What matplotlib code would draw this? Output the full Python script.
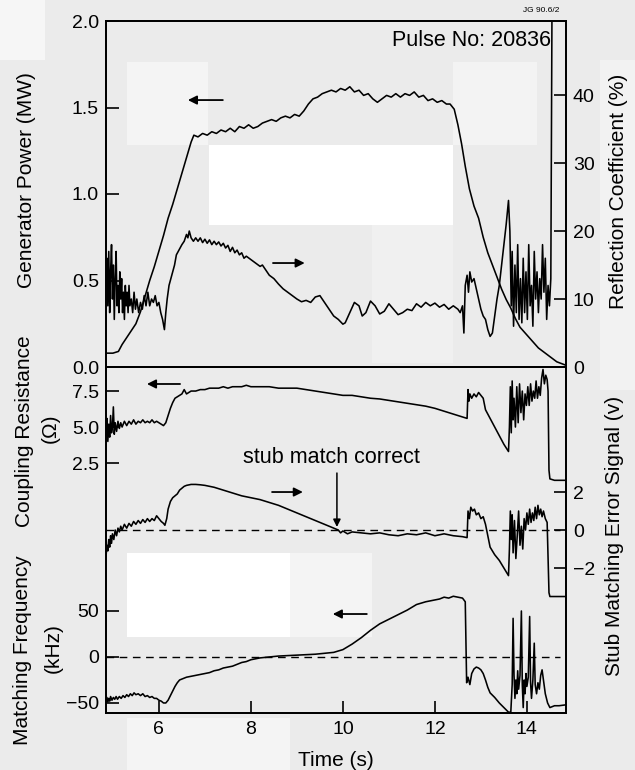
import matplotlib
matplotlib.use("Agg")
import matplotlib.pyplot as plt
from matplotlib.patches import Rectangle
from matplotlib.ticker import FixedLocator, FixedFormatter

plt.rcParams['font.family'] = ['Liberation Sans', 'DejaVu Sans']

# ---------------- data (time in s) ----------------
time_ticks = [6, 8, 10, 12, 14]

gen_power = [  # (t, MW)
    (4.85, 0.08), (5.00, 0.08), (5.12, 0.09), (5.20, 0.13), (5.30, 0.17), (5.40, 0.21),
    (5.50, 0.25), (5.60, 0.32), (5.70, 0.41), (5.80, 0.50), (5.90, 0.58), (6.00, 0.67),
    (6.10, 0.76), (6.20, 0.86), (6.30, 0.94), (6.40, 1.03), (6.50, 1.12), (6.60, 1.21),
    (6.70, 1.30), (6.76, 1.34), (6.85, 1.33), (6.95, 1.35), (7.05, 1.34), (7.15, 1.36),
    (7.25, 1.35), (7.35, 1.37), (7.45, 1.36), (7.55, 1.38), (7.65, 1.36), (7.75, 1.39),
    (7.85, 1.38), (7.95, 1.40), (8.05, 1.38), (8.15, 1.39), (8.25, 1.41), (8.35, 1.42),
    (8.45, 1.43), (8.55, 1.42), (8.65, 1.44), (8.75, 1.45), (8.85, 1.44), (8.95, 1.46),
    (9.05, 1.45), (9.15, 1.48), (9.25, 1.52), (9.35, 1.55), (9.45, 1.56), (9.55, 1.58),
    (9.65, 1.59), (9.75, 1.60), (9.85, 1.59), (9.95, 1.61), (10.05, 1.60), (10.15, 1.62),
    (10.25, 1.59), (10.35, 1.60), (10.45, 1.57), (10.55, 1.58), (10.65, 1.55), (10.75, 1.53),
    (10.85, 1.55), (10.95, 1.57), (11.05, 1.56), (11.15, 1.58), (11.25, 1.56), (11.35, 1.58),
    (11.45, 1.57), (11.55, 1.59), (11.65, 1.56), (11.75, 1.57), (11.85, 1.54), (11.95, 1.55),
    (12.05, 1.53), (12.15, 1.54), (12.25, 1.52), (12.33, 1.52), (12.42, 1.49), (12.50, 1.40),
    (12.58, 1.29), (12.66, 1.16), (12.75, 1.03), (12.85, 0.93), (12.95, 0.86), (13.05, 0.75),
    (13.15, 0.66), (13.25, 0.59), (13.35, 0.52), (13.45, 0.45), (13.55, 0.39), (13.65, 0.34),
    (13.75, 0.28), (13.85, 0.23), (13.95, 0.20), (14.05, 0.17), (14.15, 0.14), (14.25, 0.11),
    (14.35, 0.09), (14.45, 0.07), (14.55, 0.05), (14.65, 0.03), (14.75, 0.02), (14.85, 0.01),
]

reflection = [  # (t, %)
    (4.85, 12), (4.87, 16), (4.89, 9), (4.91, 17), (4.93, 8), (4.95, 14), (4.97, 18), (4.99, 10),
    (5.01, 15), (5.03, 7), (5.05, 13), (5.07, 17), (5.09, 9), (5.11, 12), (5.13, 8), (5.15, 14),
    (5.17, 10), (5.19, 13), (5.21, 8), (5.23, 11), (5.25, 7), (5.27, 12), (5.29, 9), (5.31, 11),
    (5.33, 8), (5.35, 12), (5.37, 9), (5.40, 10), (5.43, 8), (5.46, 11), (5.49, 8.5), (5.52, 10),
    (5.56, 8), (5.60, 9.5), (5.64, 8.5), (5.68, 10.5), (5.72, 9), (5.76, 11), (5.80, 9), (5.84, 10),
    (5.88, 9.5), (5.92, 10.5), (5.96, 9), (6.00, 9.5), (6.04, 8), (6.08, 7), (6.12, 5.5), (6.15, 8),
    (6.18, 10), (6.22, 12), (6.26, 13), (6.30, 14), (6.34, 15), (6.38, 16.5), (6.42, 17), (6.46, 17.5),
    (6.50, 18), (6.55, 18.5), (6.60, 19.5), (6.63, 19), (6.66, 20), (6.70, 19), (6.75, 18.5), (6.80, 19),
    (6.85, 18.5), (6.90, 19), (6.95, 18.3), (7.00, 18.8), (7.05, 18.2), (7.10, 18.7), (7.15, 18),
    (7.20, 18.5), (7.25, 18), (7.30, 18.4), (7.35, 17.8), (7.40, 18.2), (7.45, 17.5), (7.50, 17.9),
    (7.55, 17), (7.60, 17.6), (7.65, 16.8), (7.70, 17.2), (7.75, 16.5), (7.80, 16.8), (7.85, 16),
    (7.90, 16.3), (8.00, 15.8), (8.10, 15.3), (8.20, 14.8), (8.25, 15), (8.30, 14.5), (8.40, 13.5),
    (8.50, 13), (8.60, 12.2), (8.70, 11.5), (8.80, 11), (8.90, 10.5), (9.00, 10), (9.10, 9.6),
    (9.20, 9.8), (9.30, 9.5), (9.40, 10.3), (9.50, 10.5), (9.60, 9.5), (9.70, 8.5), (9.80, 7.5),
    (9.90, 7), (10.00, 6.3), (10.05, 6.5), (10.15, 8), (10.25, 9.5), (10.35, 9), (10.42, 7.5),
    (10.50, 8), (10.60, 9.7), (10.70, 9), (10.80, 7.8), (10.90, 8.2), (11.00, 9.3), (11.10, 8.5),
    (11.20, 7.7), (11.30, 8), (11.40, 8.5), (11.50, 8.3), (11.60, 9.3), (11.70, 8.8), (11.80, 9.5),
    (11.90, 9), (12.00, 9.4), (12.10, 8.8), (12.20, 9.2), (12.30, 8.5), (12.40, 9), (12.50, 8.5),
    (12.55, 8), (12.60, 9), (12.63, 5), (12.66, 12), (12.70, 13.5), (12.73, 11), (12.76, 14),
    (12.80, 12.5), (12.85, 13), (12.90, 11.5), (12.95, 10), (13.00, 8.5), (13.05, 7.5), (13.10, 7),
    (13.15, 5.5), (13.20, 4.5), (13.25, 5), (13.30, 7.5), (13.35, 10), (13.40, 12), (13.45, 15),
    (13.50, 18), (13.55, 21), (13.60, 24.5), (13.63, 20), (13.66, 9), (13.68, 17), (13.71, 6),
    (13.74, 15), (13.77, 8), (13.80, 18), (13.83, 7), (13.86, 13), (13.89, 6.5), (13.92, 16),
    (13.95, 8), (13.98, 14), (14.01, 7), (14.04, 18), (14.07, 9), (14.10, 12), (14.13, 6),
    (14.16, 17), (14.19, 10), (14.22, 14), (14.25, 8), (14.28, 13), (14.31, 10), (14.34, 18),
    (14.37, 11), (14.40, 16), (14.43, 7), (14.46, 12), (14.49, 9), (14.52, 13), (14.55, 60),
]

coupling = [  # (t, ohm)
    (4.85, 4.5), (4.87, 5.6), (4.89, 4.0), (4.91, 5.2), (4.93, 4.3), (4.95, 5.8), (4.97, 4.6),
    (4.99, 5.0), (5.01, 6.4), (5.03, 4.5), (5.05, 5.3), (5.08, 4.7), (5.11, 5.4), (5.14, 4.9),
    (5.17, 5.3), (5.20, 5.0), (5.25, 5.4), (5.30, 5.1), (5.35, 5.4), (5.40, 5.2), (5.45, 5.5),
    (5.50, 5.2), (5.55, 5.4), (5.60, 5.3), (5.65, 5.5), (5.70, 5.3), (5.75, 5.4), (5.80, 5.3),
    (5.85, 5.5), (5.90, 5.3), (5.95, 5.4), (6.00, 5.3), (6.05, 5.2), (6.10, 5.1), (6.15, 5.3),
    (6.20, 5.8), (6.25, 6.3), (6.30, 6.7), (6.35, 7.0), (6.40, 7.1), (6.45, 7.2), (6.50, 7.3),
    (6.55, 7.6), (6.60, 7.3), (6.70, 7.5), (6.80, 7.5), (6.90, 7.6), (7.00, 7.6), (7.10, 7.7),
    (7.20, 7.7), (7.30, 7.7), (7.40, 7.8), (7.50, 7.7), (7.60, 7.8), (7.70, 7.8), (7.80, 7.8),
    (7.90, 7.9), (8.00, 7.8), (8.20, 7.8), (8.40, 7.8), (8.60, 7.7), (8.80, 7.7), (9.00, 7.7),
    (9.20, 7.6), (9.40, 7.5), (9.60, 7.4), (9.80, 7.3), (10.00, 7.2), (10.20, 7.2), (10.40, 7.1),
    (10.60, 7.0), (10.80, 6.95), (11.00, 6.85), (11.20, 6.75), (11.40, 6.65), (11.60, 6.55),
    (11.80, 6.45), (12.00, 6.3), (12.20, 6.1), (12.40, 5.9), (12.60, 5.7), (12.70, 5.6),
    (12.72, 7.6), (12.74, 6.8), (12.76, 7.3), (12.80, 7.0), (12.85, 7.3), (12.90, 7.1),
    (12.95, 7.4), (13.00, 7.2), (13.05, 7.0), (13.10, 6.2), (13.20, 5.6), (13.30, 5.0),
    (13.40, 4.4), (13.50, 3.8), (13.60, 3.3), (13.62, 5.0), (13.64, 7.8), (13.66, 4.6),
    (13.68, 8.2), (13.70, 5.5), (13.72, 7.0), (13.75, 5.0), (13.78, 7.8), (13.81, 5.3),
    (13.84, 8.0), (13.87, 6.0), (13.90, 7.5), (13.93, 5.5), (13.96, 7.3), (13.99, 6.5),
    (14.02, 7.8), (14.05, 6.5), (14.08, 8.0), (14.11, 6.8), (14.14, 7.5), (14.17, 7.0),
    (14.20, 8.2), (14.23, 7.0), (14.26, 7.8), (14.29, 7.2), (14.32, 8.4), (14.35, 9.0),
    (14.38, 8.0), (14.41, 8.6), (14.44, 8.3), (14.46, 7.5), (14.48, 2.0), (14.50, 1.4),
    (14.60, 1.3), (14.85, 1.3),
]

stub_error = [  # (t, V)
    (4.85, -1.4), (4.87, -0.8), (4.89, -1.1), (4.91, -0.5), (4.93, -0.9), (4.95, -0.3),
    (4.97, -0.7), (4.99, -0.2), (5.02, -0.5), (5.05, 0.0), (5.08, -0.3), (5.11, 0.1),
    (5.14, -0.1), (5.17, 0.2), (5.20, 0.0), (5.25, 0.3), (5.30, 0.1), (5.35, 0.35), (5.40, 0.2),
    (5.45, 0.45), (5.50, 0.3), (5.55, 0.5), (5.60, 0.35), (5.65, 0.55), (5.70, 0.4), (5.75, 0.6),
    (5.80, 0.45), (5.85, 0.6), (5.90, 0.5), (5.95, 0.75), (6.00, 0.6), (6.05, 0.45), (6.10, 0.35),
    (6.13, 0.25), (6.17, 0.6), (6.20, 1.1), (6.25, 1.5), (6.30, 1.7), (6.35, 1.8), (6.40, 1.9),
    (6.45, 2.1), (6.50, 2.2), (6.55, 2.3), (6.60, 2.35), (6.70, 2.4), (6.80, 2.4), (6.90, 2.38),
    (7.00, 2.35), (7.20, 2.25), (7.40, 2.1), (7.60, 1.95), (7.80, 1.8), (8.00, 1.7), (8.20, 1.6),
    (8.40, 1.45), (8.60, 1.3), (8.80, 1.1), (9.00, 0.9), (9.20, 0.7), (9.40, 0.5), (9.60, 0.3),
    (9.80, 0.1), (9.90, 0.0), (9.95, -0.15), (10.00, -0.05), (10.10, -0.2), (10.20, -0.1),
    (10.40, -0.15), (10.60, -0.2), (10.80, -0.15), (11.00, -0.25), (11.20, -0.3), (11.40, -0.2),
    (11.60, -0.25), (11.80, -0.15), (12.00, -0.3), (12.20, -0.2), (12.40, -0.3), (12.60, -0.35),
    (12.70, -0.4), (12.72, 1.0), (12.75, 0.6), (12.78, 1.2), (12.82, 1.0), (12.86, 1.1),
    (12.90, 0.8), (12.95, 0.9), (13.00, 0.6), (13.05, 0.7), (13.10, 0.3), (13.15, -0.3),
    (13.20, -0.9), (13.30, -1.3), (13.40, -1.6), (13.50, -2.0), (13.60, -2.4), (13.62, -1.0),
    (13.64, 1.0), (13.66, -0.5), (13.68, 0.8), (13.70, -1.2), (13.73, 0.5), (13.76, -1.5),
    (13.79, -0.3), (13.82, 1.0), (13.85, -0.8), (13.88, 0.2), (13.91, -1.0), (13.94, 0.6),
    (13.97, 0.0), (14.00, 0.9), (14.03, 0.3), (14.06, 1.1), (14.09, 0.4), (14.12, 0.9),
    (14.15, 0.5), (14.18, 1.2), (14.21, 0.6), (14.24, 1.3), (14.27, 0.8), (14.30, 1.1),
    (14.33, 0.7), (14.36, 1.0), (14.40, 0.6), (14.44, 0.4), (14.46, -1.5), (14.48, -3.3),
    (14.50, -3.5), (14.85, -3.5),
]

match_freq = [  # (t, kHz)
    (4.85, -50), (4.87, -44), (4.89, -49), (4.91, -45), (4.93, -48), (4.95, -43), (4.98, -47),
    (5.01, -44), (5.04, -46), (5.07, -43), (5.10, -46), (5.14, -43), (5.18, -45), (5.22, -42),
    (5.26, -44), (5.30, -41), (5.34, -43), (5.38, -40), (5.42, -42), (5.46, -39), (5.50, -41),
    (5.55, -40), (5.60, -42), (5.65, -40), (5.70, -43), (5.75, -42), (5.80, -44), (5.85, -43),
    (5.90, -45), (5.95, -45), (6.00, -47), (6.05, -48), (6.10, -50), (6.15, -50), (6.20, -47),
    (6.25, -42), (6.30, -37), (6.35, -32), (6.40, -28), (6.45, -25), (6.50, -24), (6.60, -22),
    (6.70, -21), (6.80, -20), (6.90, -19), (7.00, -18), (7.10, -17), (7.20, -15), (7.30, -14),
    (7.40, -12), (7.50, -11), (7.60, -10), (7.70, -8), (7.80, -6), (7.90, -5), (8.00, -3),
    (8.10, -2), (8.20, -1), (8.40, 0), (8.60, 1), (8.80, 1.5), (9.00, 2), (9.20, 2.5), (9.40, 3),
    (9.60, 4), (9.80, 5), (10.00, 8), (10.20, 14), (10.40, 21), (10.60, 29), (10.80, 36),
    (11.00, 41), (11.20, 46), (11.40, 51), (11.60, 57), (11.80, 60), (12.00, 62), (12.10, 63),
    (12.20, 65), (12.30, 64), (12.40, 66), (12.50, 65), (12.60, 64), (12.66, 60), (12.69, -28),
    (12.72, -22), (12.76, -30), (12.80, -18), (12.85, -13), (12.90, -11), (12.95, -12),
    (13.00, -14), (13.05, -18), (13.10, -25), (13.15, -33), (13.20, -39), (13.30, -44),
    (13.40, -50), (13.50, -55), (13.60, -60), (13.65, -60), (13.68, -30), (13.70, 42),
    (13.72, -20), (13.74, -45), (13.76, -25), (13.78, -40), (13.80, -15), (13.82, -35),
    (13.85, -20), (13.88, 50), (13.90, -30), (13.92, -55), (13.94, -25), (13.96, -40),
    (13.98, -18), (14.00, -32), (14.03, -22), (14.06, 44), (14.08, -28), (14.10, -45),
    (14.13, -25), (14.16, 15), (14.18, -30), (14.21, -40), (14.24, -28), (14.27, -35),
    (14.30, -20), (14.33, -14), (14.36, -25), (14.40, -40), (14.45, -50), (14.50, -55),
    (14.60, -53), (14.70, -53), (14.85, -52),
]

power_ticks = [0.0, 0.5, 1.0, 1.5, 2.0]
refl_ticks = [0, 10, 20, 30, 40]
coupling_ticks = [2.5, 5.0, 7.5]
stub_ticks = [-2, 0, 2]
freq_ticks = [-50, 0, 50]

# ---------------- layout helpers (pixel geometry of 635x770 canvas) ----------------
W, H = 635, 770
BG = '#ebebeb'
fig = plt.figure(figsize=(W / 100, H / 100), dpi=100, facecolor=BG)


def frect(x0, y0, x1, y1):
    return [x0 / W, 1 - y1 / H, (x1 - x0) / W, (y1 - y0) / H]


# scan-like lighter patches of the original
for (x0, y0, x1, y1, c) in [(0, 0, 45, 60, '#f6f6f6'), (127, 62, 208, 145, '#f4f4f4'),
                            (453, 62, 537, 145, '#f3f3f3'), (209, 145, 453, 225, '#ffffff'),
                            (372, 225, 453, 363, '#f0f0f0'), (127, 553, 290, 637, '#ffffff'),
                            (290, 553, 372, 637, '#f4f4f4'), (127, 718, 290, 770, '#f4f4f4'),
                            (600, 60, 635, 390, '#f2f2f2')]:
    l, b, w, h = frect(x0, y0, x1, y1)
    fig.add_artist(Rectangle((l, b), w, h, transform=fig.transFigure, facecolor=c,
                             edgecolor='none', zorder=-5))

XLIM = (4.85, 14.85)
LW = 1.15
SPW = 1.3
TL = 9
TS = 14
LS = 15

def style_ticks(ax):
    ax.tick_params(direction='in', length=TL, width=1.2, labelsize=TS, colors='k')

def split(pairs):
    return [p[0] for p in pairs], [p[1] for p in pairs]

# ---------------- top panel ----------------
ax_t = fig.add_axes(frect(106, 21, 566, 367))
ax_t.set_facecolor('none')
ax_t.set_xlim(*XLIM)
ax_t.set_ylim(0, 2.0)
for s in ax_t.spines.values():
    s.set_linewidth(SPW)
t, v = split(gen_power)
ax_t.plot(t, v, color='k', lw=LW)
style_ticks(ax_t)
ax_t.tick_params(axis='x', bottom=False, labelbottom=False)
ax_t.yaxis.set_major_locator(FixedLocator(power_ticks))
ax_t.yaxis.set_major_formatter(FixedFormatter([f'{p:.1f}' for p in power_ticks]))
ax_t.tick_params(axis='y', pad=5)

ax_tr = ax_t.twinx()
ax_tr.set_ylim(0, 50.9)
t, v = split(reflection)
ax_tr.plot(t, v, color='k', lw=LW)
style_ticks(ax_tr)
ax_tr.yaxis.set_major_locator(FixedLocator(refl_ticks))
ax_tr.tick_params(axis='y', pad=5)
for s in ax_tr.spines.values():
    s.set_linewidth(SPW)

arrow = dict(arrowstyle='-|>', color='k', lw=1.3, mutation_scale=13, shrinkA=0, shrinkB=0)
ax_t.annotate('', xy=(6.63, 1.543), xytext=(7.39, 1.543), arrowprops=arrow)
ax_t.annotate('', xy=(9.17, 0.601), xytext=(8.48, 0.601), arrowprops=arrow)
ax_t.text(14.52, 1.885, 'Pulse No: 20836', ha='right', va='center', fontsize=15.5)
fig.text(541 / W, 1 - 10 / H, 'JG 90.6/2', fontsize=6, ha='center', va='center')

# ---------------- bottom panel ----------------
bpos = frect(106, 367, 566, 713)
ax_c = fig.add_axes(bpos)
ax_c.set_facecolor('none')
ax_c.set_xlim(*XLIM)
ax_c.set_ylim(-14.86, 9.17)
for s in ax_c.spines.values():
    s.set_linewidth(SPW)
t, v = split(coupling)
ax_c.plot(t, v, color='k', lw=LW)
style_ticks(ax_c)
ax_c.xaxis.set_major_locator(FixedLocator(time_ticks))
ax_c.tick_params(axis='x', pad=6)
ax_c.tick_params(axis='y', pad=5)
ax_c.yaxis.set_major_locator(FixedLocator(coupling_ticks))
ax_c.yaxis.set_major_formatter(FixedFormatter([f'{p:.1f}' for p in coupling_ticks]))
ax_c.set_xlabel('Time (s)', fontsize=LS, labelpad=9)

ax_s = ax_c.twinx()
ax_s.set_ylim(-9.63, 8.58)
t, v = split(stub_error)
ax_s.plot(t, v, color='k', lw=LW)
ax_s.axhline(0, xmin=0, xmax=0.987, color='k', lw=1.0, dashes=(5.5, 4))
style_ticks(ax_s)
ax_s.tick_params(axis='y', pad=5)
ax_s.yaxis.set_major_locator(FixedLocator(stub_ticks))
for s in ax_s.spines.values():
    s.set_linewidth(SPW)

ax_f = fig.add_axes(bpos, frameon=False)
ax_f.set_facecolor('none')
ax_f.set_xlim(*XLIM)
ax_f.set_ylim(-60.9, 315.2)
t, v = split(match_freq)
ax_f.plot(t, v, color='k', lw=LW)
ax_f.axhline(0, xmin=0, xmax=0.987, color='k', lw=1.0, dashes=(5.5, 4))
style_ticks(ax_f)
ax_f.tick_params(axis='x', bottom=False, labelbottom=False)
ax_f.tick_params(axis='y', pad=5)
ax_f.yaxis.set_major_locator(FixedLocator(freq_ticks))

ax_c.annotate('', xy=(5.74, 7.99), xytext=(6.46, 7.99), arrowprops=arrow)
ax_s.annotate('', xy=(9.13, 2.0), xytext=(8.46, 2.0), arrowprops=arrow)
ax_f.annotate('', xy=(9.78, 46.7), xytext=(10.52, 46.7), arrowprops=arrow)
ax_s.annotate('', xy=(9.87, 0.16), xytext=(9.87, 3.0),
              arrowprops=dict(arrowstyle='-|>', color='k', lw=1.1, mutation_scale=11,
                              shrinkA=0, shrinkB=0))
ax_s.text(9.76, 3.84, 'stub match correct', ha='center', va='center', fontsize=15.5)

# ---------------- axis titles ----------------
def vlabel(x, y, s):
    fig.text(x / W, 1 - y / H, s, rotation=90, ha='center', va='center', fontsize=LS)

vlabel(27, 180, 'Generator Power (MW)')
vlabel(25, 431, 'Coupling Resistance')
vlabel(50, 428, '(Ω)')
vlabel(23, 650, 'Matching Frequency')
vlabel(53, 648, '(kHz)')
vlabel(619, 191, 'Reflection Coefficient (%)')
vlabel(614, 536, 'Stub Matching Error Signal (v)')

fig.savefig('out.png', dpi=100, facecolor=BG)
